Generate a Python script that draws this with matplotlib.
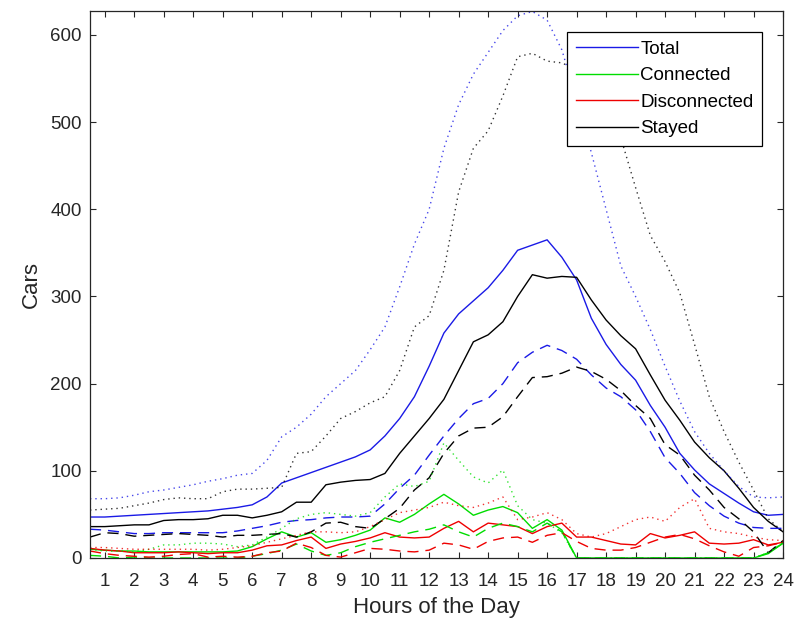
import numpy as np
import matplotlib
matplotlib.use("Agg")
import matplotlib.pyplot as plt

plt.rcParams['font.family'] = ['Liberation Sans', 'DejaVu Sans']

# Half-hour time stamps across the day
hours = np.arange(0.5, 24.01, 0.5)
tick_hours = list(range(1, 25))

# Solid lines
total_mean = [47, 47, 48, 49, 50, 51, 52, 53, 54, 56, 58, 61, 70, 86, 92, 98,
              104, 110, 116, 124, 140, 160, 185, 220, 258, 280, 295, 310, 330, 353, 359, 365,
              345, 319, 275, 245, 222, 204, 175, 150, 120, 101, 85, 74, 63, 53, 49, 50]
connected_mean = [10, 9, 8, 8, 7, 7, 7, 7, 7, 7, 8, 13, 22, 30, 24, 29,
                  18, 21, 26, 32, 46, 41, 50, 62, 73, 62, 49, 55, 59, 52, 34, 44,
                  32, 0, 0, 0, 0, 0, 0, 0, 0, 0, 0, 0, 0, 0, 5, 17]
disconnected_mean = [11, 9, 8, 6, 6, 6, 7, 6, 5, 6, 6, 9, 14, 15, 20, 24,
                     11, 16, 19, 23, 29, 24, 23, 24, 34, 42, 30, 40, 38, 36, 28, 36,
                     40, 24, 24, 20, 16, 15, 28, 23, 26, 30, 17, 16, 17, 21, 15, 18]
stayed_mean = [36, 36, 37, 38, 38, 43, 44, 44, 45, 49, 49, 46, 49, 53, 64, 64,
               84, 87, 89, 90, 97, 120, 140, 160, 182, 215, 248, 256, 271, 300, 325, 321,
               323, 322, 296, 273, 255, 240, 210, 181, 158, 133, 115, 100, 80, 58, 42, 30]

# Dashed lines
total_median = [33, 32, 30, 28, 28, 29, 29, 29, 29, 29, 31, 34, 37, 41, 43, 44,
                46, 47, 47, 48, 62, 80, 95, 118, 140, 160, 177, 183, 200, 224, 236, 244,
                238, 228, 210, 195, 185, 170, 145, 115, 97, 75, 60, 48, 40, 35, 34, 34]
connected_median = [3, 2, 0, 1, 0, 0, 0, 0, 0, 0, 0, 2, 5, 9, 16, 8,
                    3, 6, 13, 18, 22, 26, 30, 33, 38, 30, 24, 34, 40, 36, 30, 40,
                    30, 0, 0, 0, 0, 0, 0, 0, 0, 0, 0, 0, 0, 0, 6, 17]
disconnected_median = [8, 5, 3, 2, 1, 2, 4, 5, 1, 2, 1, 2, 6, 8, 17, 12,
                       3, 1, 6, 11, 10, 8, 7, 9, 17, 15, 10, 19, 23, 24, 18, 26,
                       29, 19, 11, 9, 9, 12, 18, 24, 27, 22, 14, 7, 2, 12, 14, 18]
stayed_median = [24, 29, 28, 25, 26, 27, 28, 27, 26, 24, 26, 26, 27, 28, 24, 30,
                 40, 41, 36, 34, 45, 57, 78, 92, 120, 140, 149, 150, 162, 185, 207, 208,
                 212, 219, 214, 205, 192, 175, 160, 130, 118, 95, 78, 58, 45, 30, 6, 20]

# Dotted lines
total_peak = [68, 68, 69, 72, 76, 78, 81, 84, 88, 91, 95, 97, 112, 139, 150, 165,
              185, 200, 215, 239, 265, 311, 360, 400, 470, 520, 555, 580, 605, 622, 627, 617,
              583, 525, 465, 400, 335, 300, 262, 220, 180, 145, 120, 100, 82, 70, 69, 70]
connected_peak = [10, 8, 8, 7, 10, 15, 15, 17, 17, 16, 13, 15, 24, 34, 45, 50,
                  52, 50, 48, 52, 70, 85, 82, 88, 132, 112, 93, 86, 101, 60, 44, 40,
                  29, 0, 0, 0, 0, 0, 0, 0, 0, 0, 0, 0, 0, 0, 6, 18]
disconnected_peak = [12, 12, 11, 10, 10, 10, 10, 10, 9, 10, 12, 14, 18, 22, 26, 30,
                     30, 29, 30, 36, 44, 52, 55, 58, 64, 60, 58, 63, 70, 44, 47, 52,
                     44, 28, 24, 28, 36, 44, 47, 42, 58, 68, 34, 30, 28, 24, 21, 20]
stayed_peak = [55, 56, 57, 60, 63, 67, 69, 68, 68, 76, 79, 79, 80, 81, 120, 122,
               140, 160, 168, 178, 185, 215, 265, 278, 330, 420, 470, 490, 530, 575, 579, 570,
               568, 560, 545, 520, 482, 425, 370, 340, 304, 245, 185, 145, 110, 78, 45, 30]

names = ["Total", "Connected", "Disconnected", "Stayed"]
colors = ["#1a1ae6", "#00dd00", "#ee0000", "#000000"]
means = [total_mean, connected_mean, disconnected_mean, stayed_mean]
medians = [total_median, connected_median, disconnected_median, stayed_median]
peaks = [total_peak, connected_peak, disconnected_peak, stayed_peak]

fig = plt.figure(figsize=(8.0, 6.29), dpi=100)
ax = fig.add_axes([0.1125, 0.1129, 0.8663, 0.8696])

lw = 1.0
for name, c, y in zip(names, colors, means):
    ax.plot(hours, y, color=c, lw=lw, label=name)
for c, y in zip(colors, medians):
    ax.plot(hours, y, color=c, lw=lw, dashes=(8, 5))
for c, y in zip(colors, peaks):
    ax.plot(hours, y, color=c, lw=lw, dashes=(1, 2.8), alpha=0.8)

ax.set_xlim(0.5, 24)
ax.set_ylim(0, 627.5)
ax.set_xticks(tick_hours)
ax.set_yticks(range(0, 601, 100))

txt = '#262626'
ax.tick_params(direction='in', length=4, width=0.8, top=True, right=True,
               labelsize=13.5, colors=txt, pad=6)
ax.tick_params(axis='x', pad=11)
for s in ax.spines.values():
    s.set_color(txt)
    s.set_linewidth(0.9)

ax.set_xlabel("Hours of the Day", fontsize=16, color=txt, labelpad=5)
ax.set_ylabel("Cars", fontsize=16, color=txt, labelpad=6)

leg = ax.legend(loc='upper right', bbox_to_anchor=(0.9697, 0.9616), borderaxespad=0,
                fontsize=13.5, frameon=True, fancybox=False, framealpha=1,
                edgecolor='black', handlelength=3.3, handletextpad=0.15,
                labelspacing=0.5, borderpad=0.45)
leg.get_frame().set_linewidth(0.9)

fig.savefig("out.png", dpi=100)
